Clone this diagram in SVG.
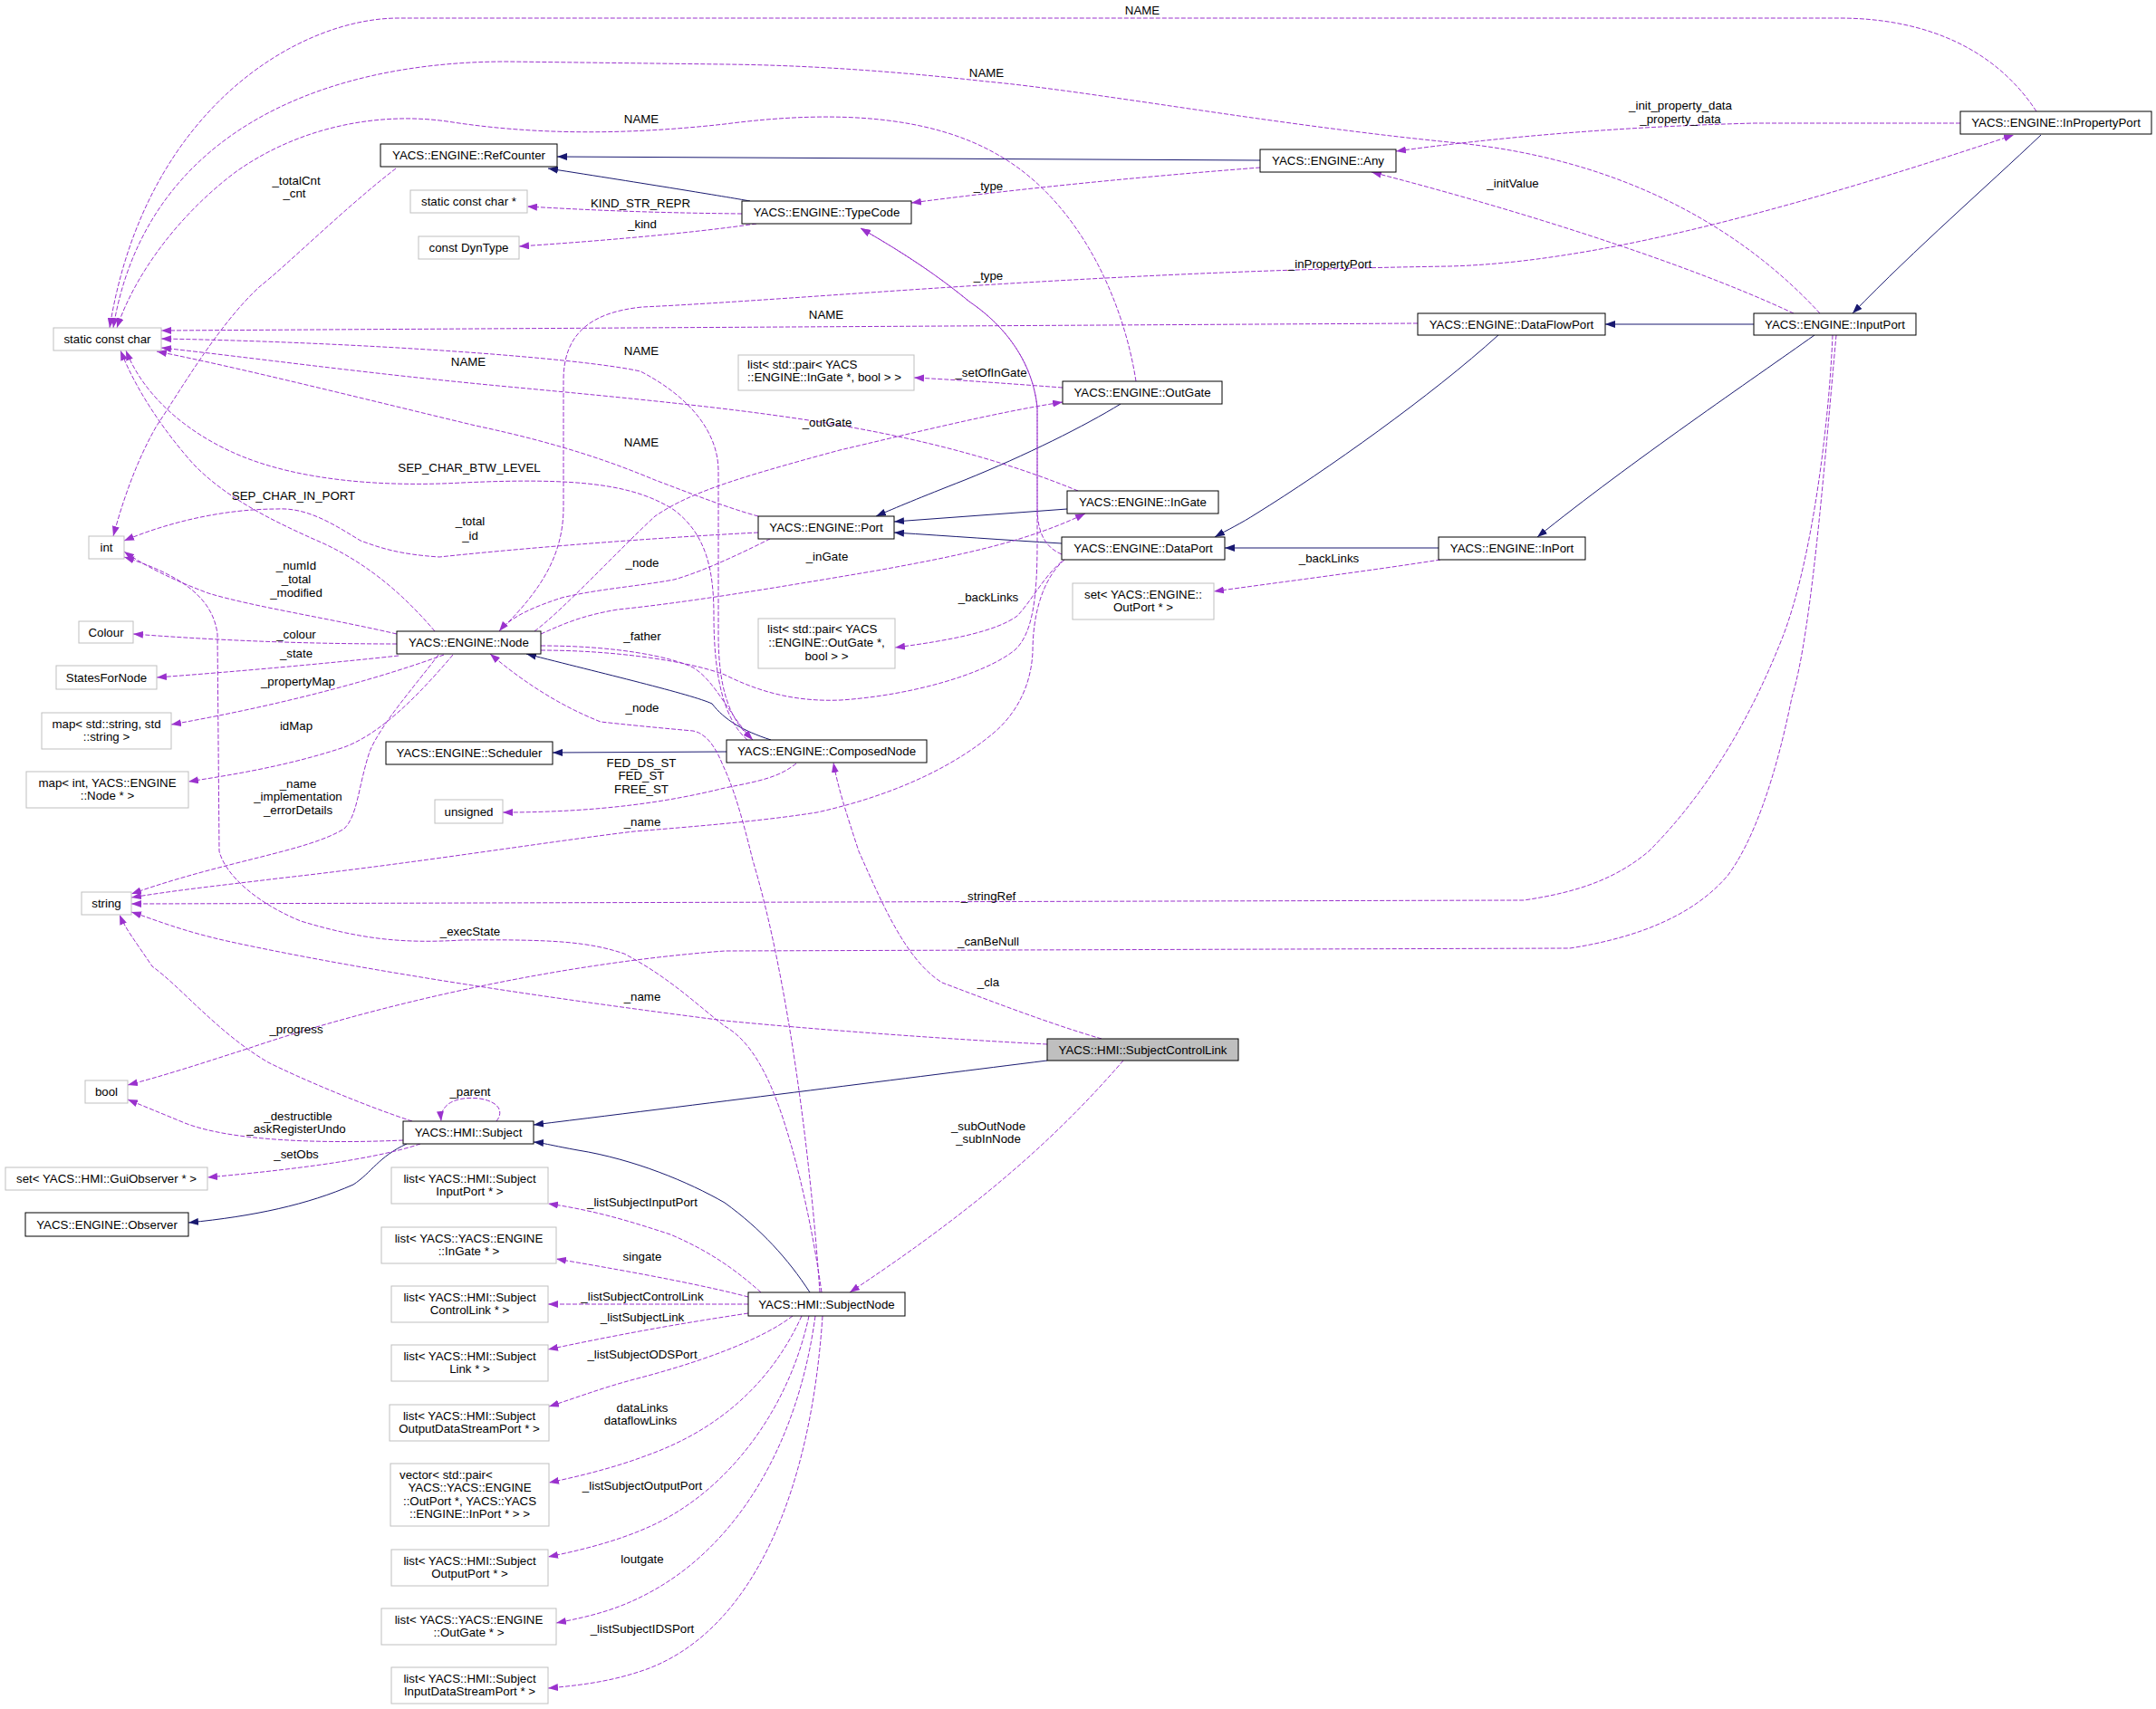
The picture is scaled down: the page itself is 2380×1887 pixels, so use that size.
<svg xmlns="http://www.w3.org/2000/svg" width="2380" height="1887" viewBox="0 0 2380 1887">
<defs>
<marker id="ap" viewBox="0 0 11 8" refX="11" refY="4" markerWidth="11" markerHeight="8" markerUnits="userSpaceOnUse" orient="auto"><path d="M0,0 L11,4 L0,8 z" fill="#9a32cd" stroke="none"/></marker>
<marker id="ab" viewBox="0 0 11 8" refX="11" refY="4" markerWidth="11" markerHeight="8" markerUnits="userSpaceOnUse" orient="auto"><path d="M0,0 L11,4 L0,8 z" fill="#191970" stroke="none"/></marker>
<style>
text{font-family:"Liberation Sans",Arial,sans-serif;font-size:13.3px;fill:#000}
.nt{text-anchor:middle}
.st{text-anchor:start}
.n rect{fill:#fff;stroke:#000;stroke-width:1}
.g rect{fill:#fff;stroke:#bfbfbf;stroke-width:1}
.c rect{fill:#bfbfbf;stroke:#000;stroke-width:1}
.d{fill:none;stroke:#9a32cd;stroke-width:1;stroke-dasharray:5,2;marker-end:url(#ap)}
.s{fill:none;stroke:#191970;stroke-width:1;marker-end:url(#ab)}
.lb text{text-anchor:middle}
</style>
</defs>
<rect width="2380" height="1887" fill="#fff"/>
<g id="connectors">
<!-- inheritance -->
<path class="s" d="M1391,177 L615,173"/>
<path class="s" d="M828,222 C800,217 714,203 605,186"/>
<path class="s" d="M2253,149 C2192,207 2116,273 2045,346"/>
<path class="s" d="M1936,358 L1772,358"/>
<path class="s" d="M2003,370 C1937,417 1800,510 1697,593"/>
<path class="s" d="M1654,370 C1580,437 1463,520 1387,567 C1370,578 1355,585 1341,593"/>
<path class="s" d="M1588,605 L1352,605"/>
<path class="s" d="M1172,600 C1106,596 1050,592 987,588"/>
<path class="s" d="M1178,562 L987,576"/>
<path class="s" d="M1237,446 C1198,470 1132,503 1065,530 C1014,550 990,560 967,570"/>
<path class="s" d="M851,817 C820,807 800,795 786,777 C765,767 663,743 581,722"/>
<path class="s" d="M802,830 L610,831"/>
<path class="s" d="M1156,1171 C1004,1190 800,1216 589,1242"/>
<path class="s" d="M894,1427 C870,1390 840,1357 800,1328 C760,1305 700,1280 638,1270 C610,1265 600,1262 589,1261"/>
<path class="s" d="M449,1263 C418,1277 410,1295 390,1308 C340,1330 280,1343 208,1350"/>
<!-- members -->
<path class="d" d="M2248,123 C2200,50 2120,20 2030,20 L440,20 C330,20 160,120 121,362"/>
<path class="d" d="M2009,346 C1930,260 1800,175 1600,157 C1400,137 1200,100 1089,90 C1000,80 900,72 800,71 L560,68 C350,68 160,150 125,362"/>
<path class="d" d="M1254,421 C1240,330 1190,220 1100,170 C1030,130 930,120 800,137 C700,148 600,150 500,135 C420,122 330,140 260,190 C200,235 150,300 129,362"/>
<path class="d" d="M1565,357 L178,365"/>
<path class="d" d="M831,817 C805,795 793,760 793,700 L793,520 C793,480 765,440 707,410 C640,395 400,378 178,374"/>
<path class="d" d="M1190,542 C1100,505 1000,480 886,463 C800,450 700,440 561,427 C400,412 280,395 178,384"/>
<path class="d" d="M837,570 C800,560 750,540 723,530 C680,512 620,490 525,470 C400,440 260,405 173,388"/>
<path class="d" d="M480,697 C440,650 400,620 357,600 C300,575 250,550 214,513 C180,475 150,430 133,387"/>
<path class="d" d="M825,817 C800,795 788,750 788,680 C788,630 780,590 744,563 C700,535 640,527 510,533 C420,538 330,530 265,503 C210,480 160,440 139,387"/>
<path class="d" d="M437,186 C380,230 320,290 286,317 C240,360 200,430 173,470 C150,510 135,555 125,592"/>
<path class="d" d="M837,588 C700,595 560,607 485,615 C440,612 420,605 398,597 C370,580 340,560 306,562 C250,562 190,575 137,597"/>
<path class="d" d="M438,700 C360,682 280,670 230,655 C190,640 160,625 137,609"/>
<path class="d" d="M907,1427 C897,1357 882,1290 866,1240 C850,1190 830,1150 800,1133 C770,1110 740,1080 689,1053 C650,1040 612,1037 510,1038 C444,1042 398,1037 332,1017 C290,1000 250,970 242,940 L240,700 C235,660 200,635 137,615"/>
<path class="d" d="M438,711 C350,711 250,708 147,700"/>
<path class="d" d="M440,724 C357,733 255,742 173,748"/>
<path class="d" d="M490,723 C430,745 330,775 189,800"/>
<path class="d" d="M500,723 C460,770 420,810 380,825 C320,845 260,855 208,863"/>
<path class="d" d="M484,723 C460,755 420,800 408,830 C395,870 395,900 380,915 C340,940 250,950 145,987"/>
<path class="d" d="M551,697 C600,650 622,610 622,560 L622,420 C622,370 650,345 709,339 C900,330 1200,300 1600,294 C1750,290 1950,240 2223,149"/>
<path class="d" d="M590,697 C620,675 680,610 723,570 C760,545 805,530 927,497 C1000,480 1100,455 1173,444"/>
<path class="d" d="M597,700 C620,690 640,680 682,673 C760,665 850,650 968,630 C1050,615 1130,600 1198,567"/>
<path class="d" d="M850,595 C830,605 780,630 744,640 C700,648 662,650 620,660 C590,670 565,680 551,697"/>
<path class="d" d="M597,713 C680,713 740,725 765,737 C790,752 805,790 831,817"/>
<path class="d" d="M597,718 C680,718 760,730 800,745 C840,765 880,775 928,773 C1004,768 1086,745 1120,718 C1140,700 1145,660 1145,600 L1145,450 C1140,400 1110,360 1070,333 C1030,300 990,275 950,252"/>
<path class="d" d="M1172,612 C1155,605 1145,590 1145,560 L1145,450 C1140,400 1110,360 1070,333 C1030,300 990,275 950,252"/>
<path class="d" d="M1175,618 C1150,640 1140,680 1140,720 C1138,760 1120,790 1096,810 C1060,840 1000,875 902,897 C850,905 800,910 700,918 C600,930 459,953 306,970 C250,977 200,982 145,991"/>
<path class="d" d="M1172,620 C1152,637 1139,663 1123,680 C1100,697 1050,707 988,715"/>
<path class="d" d="M905,1427 C895,1280 870,1080 831,950 C820,905 810,870 798,845 C790,825 780,810 765,807 C720,803 690,800 663,797 C620,780 580,755 541,722"/>
<path class="d" d="M879,843 C860,858 841,862 800,870 C740,885 663,897 555,897"/>
<path class="d" d="M1391,185 C1300,192 1150,205 1006,224"/>
<path class="d" d="M819,236 C720,235 650,232 582,228"/>
<path class="d" d="M835,247 C760,258 650,267 573,272"/>
<path class="d" d="M1173,428 C1106,423 1050,419 1009,417"/>
<path class="d" d="M1590,618 C1514,630 1412,643 1340,653"/>
<path class="d" d="M1980,346 C1850,285 1650,225 1514,190"/>
<path class="d" d="M2164,136 L1937,136 C1784,140 1650,152 1541,167"/>
<path class="d" d="M2023,370 C2019,470 2000,620 1968,703 C1930,800 1880,880 1820,940 C1784,970 1743,985 1682,994 L145,998"/>
<path class="d" d="M2027,370 C2015,500 2000,700 1978,770 C1960,860 1935,930 1907,967 C1870,1010 1810,1035 1733,1047 L800,1050 C600,1065 400,1115 276,1157 C220,1175 180,1188 141,1198"/>
<path class="d" d="M1156,1153 C1055,1148 902,1137 800,1127 C612,1103 408,1073 255,1040 C200,1028 170,1015 145,1007"/>
<path class="d" d="M1216,1147 C1157,1130 1080,1100 1040,1085 C1000,1060 975,1000 948,940 C935,900 925,870 920,842"/>
<path class="d" d="M1240,1171 C1180,1240 1100,1320 938,1427"/>
<path class="d" d="M445,1259 C357,1263 255,1260 204,1240 C180,1230 160,1222 141,1214"/>
<path class="d" d="M464,1263 C408,1282 306,1293 229,1300"/>
<path class="d" d="M455,1238 C400,1220 330,1190 296,1173 C240,1140 200,1090 168,1067 C150,1040 138,1025 132,1010"/>
<path class="d" d="M548,1238 C556,1228 552,1217 530,1213 C505,1210 485,1218 487,1238"/>
<path class="d" d="M840,1427 C810,1400 780,1380 740,1363 C700,1350 660,1337 605,1329"/>
<path class="d" d="M826,1432 C780,1420 714,1407 614,1390"/>
<path class="d" d="M826,1440 L605,1440"/>
<path class="d" d="M826,1450 C760,1460 700,1470 605,1490"/>
<path class="d" d="M875,1453 C840,1480 770,1505 700,1523 C663,1533 640,1542 606,1553"/>
<path class="d" d="M885,1453 C850,1530 790,1580 714,1607 C680,1620 640,1630 606,1637"/>
<path class="d" d="M893,1453 C870,1560 800,1650 714,1687 C680,1702 640,1712 605,1719"/>
<path class="d" d="M900,1453 C880,1600 810,1710 714,1760 C680,1778 650,1785 614,1792"/>
<path class="d" d="M908,1453 C895,1650 830,1800 714,1843 C680,1855 650,1860 605,1864"/>
</g>
<g id="edge-labels" class="lb">
<text x="1261" y="16">NAME</text>
<text x="1089" y="85">NAME</text>
<text x="1855" y="121">_init_property_data</text>
<text x="1855" y="136">_property_data</text>
<text x="708" y="136">NAME</text>
<text x="327" y="204">_totalCnt</text>
<text x="325" y="218">_cnt</text>
<text x="1091" y="210">_type</text>
<text x="1670" y="207">_initValue</text>
<text x="707" y="229">KIND_STR_REPR</text>
<text x="709" y="252">_kind</text>
<text x="1468" y="296">_inPropertyPort</text>
<text x="1091" y="309">_type</text>
<text x="912" y="352">NAME</text>
<text x="708" y="392">NAME</text>
<text x="517" y="404">NAME</text>
<text x="1094" y="416">_setOfInGate</text>
<text x="913" y="471">_outGate</text>
<text x="708" y="493">NAME</text>
<text x="518" y="521">SEP_CHAR_BTW_LEVEL</text>
<text x="324" y="552">SEP_CHAR_IN_PORT</text>
<text x="519" y="580">_total</text>
<text x="519" y="596">_id</text>
<text x="913" y="619">_inGate</text>
<text x="1467" y="621">_backLinks</text>
<text x="709" y="626">_node</text>
<text x="327" y="629">_numId</text>
<text x="327" y="644">_total</text>
<text x="327" y="659">_modified</text>
<text x="1091" y="664">_backLinks</text>
<text x="327" y="705">_colour</text>
<text x="709" y="707">_father</text>
<text x="327" y="726">_state</text>
<text x="329" y="757">_propertyMap</text>
<text x="709" y="786">_node</text>
<text x="327" y="806">idMap</text>
<text x="708" y="847">FED_DS_ST</text>
<text x="708" y="861">FED_ST</text>
<text x="708" y="876">FREE_ST</text>
<text x="329" y="870">_name</text>
<text x="329" y="884">_implementation</text>
<text x="329" y="899">_errorDetails</text>
<text x="709" y="912">_name</text>
<text x="1091" y="994">_stringRef</text>
<text x="519" y="1033">_execState</text>
<text x="1091" y="1044">_canBeNull</text>
<text x="1091" y="1089">_cla</text>
<text x="709" y="1105">_name</text>
<text x="327" y="1141">_progress</text>
<text x="519" y="1210">_parent</text>
<text x="329" y="1237">_destructible</text>
<text x="327" y="1251">_askRegisterUndo</text>
<text x="1091" y="1248">_subOutNode</text>
<text x="1091" y="1262">_subInNode</text>
<text x="327" y="1279">_setObs</text>
<text x="709" y="1332">_listSubjectInputPort</text>
<text x="709" y="1392">singate</text>
<text x="709" y="1436">_listSubjectControlLink</text>
<text x="709" y="1459">_listSubjectLink</text>
<text x="709" y="1500">_listSubjectODSPort</text>
<text x="709" y="1559">dataLinks</text>
<text x="707" y="1573">dataflowLinks</text>
<text x="709" y="1645">_listSubjectOutputPort</text>
<text x="709" y="1726">loutgate</text>
<text x="709" y="1803">_listSubjectIDSPort</text>
</g>
<g id="n_static_const_char" class="g"><rect x="59" y="362" width="119" height="25"/><text class="nt" x="118.5" y="379">static const char</text></g>
<g id="n_RefCounter" class="n"><rect x="420" y="159" width="195" height="25"/><text class="nt" x="517.5" y="176">YACS::ENGINE::RefCounter</text></g>
<g id="n_static_const_char_ptr" class="g"><rect x="453" y="210" width="129" height="25"/><text class="nt" x="517.5" y="227">static const char *</text></g>
<g id="n_const_DynType" class="g"><rect x="462" y="261" width="111" height="25"/><text class="nt" x="517.5" y="278">const DynType</text></g>
<g id="n_TypeCode" class="n"><rect x="819" y="222" width="187" height="25"/><text class="nt" x="912.5" y="239">YACS::ENGINE::TypeCode</text></g>
<g id="n_Any" class="n"><rect x="1391" y="165" width="150" height="25"/><text class="nt" x="1466" y="182">YACS::ENGINE::Any</text></g>
<g id="n_InPropertyPort" class="n"><rect x="2164" y="123" width="211" height="25"/><text class="nt" x="2269.5" y="140">YACS::ENGINE::InPropertyPort</text></g>
<g id="n_DataFlowPort" class="n"><rect x="1565" y="346" width="207" height="24"/><text class="nt" x="1668.5" y="362.5">YACS::ENGINE::DataFlowPort</text></g>
<g id="n_InputPort" class="n"><rect x="1936" y="346" width="179" height="24"/><text class="nt" x="2025.5" y="362.5">YACS::ENGINE::InputPort</text></g>
<g id="n_list_pair_InGate" class="g"><rect x="815" y="392" width="194" height="39"/><text class="st" x="825" y="407">list&lt; std::pair&lt; YACS</text><text class="st" x="825" y="421">::ENGINE::InGate *, bool &gt; &gt;</text></g>
<g id="n_OutGate" class="n"><rect x="1173" y="421" width="176" height="25"/><text class="nt" x="1261" y="438">YACS::ENGINE::OutGate</text></g>
<g id="n_int" class="g"><rect x="98" y="592" width="39" height="25"/><text class="nt" x="117.5" y="609">int</text></g>
<g id="n_Colour" class="g"><rect x="87" y="686" width="60" height="24"/><text class="nt" x="117" y="702.5">Colour</text></g>
<g id="n_StatesForNode" class="g"><rect x="62" y="735" width="111" height="26"/><text class="nt" x="117.5" y="752.5">StatesForNode</text></g>
<g id="n_map_string" class="g"><rect x="46" y="787" width="143" height="40"/><text class="nt" x="117.5" y="804">map&lt; std::string, std</text><text class="nt" x="117.5" y="818">::string &gt;</text></g>
<g id="n_map_int_node" class="g"><rect x="29" y="852" width="179" height="40"/><text class="nt" x="118.5" y="869">map&lt; int, YACS::ENGINE</text><text class="nt" x="118.5" y="883">::Node * &gt;</text></g>
<g id="n_Node" class="n"><rect x="438" y="697" width="159" height="25"/><text class="nt" x="517.5" y="714">YACS::ENGINE::Node</text></g>
<g id="n_Scheduler" class="n"><rect x="426" y="819" width="184" height="25"/><text class="nt" x="518" y="836">YACS::ENGINE::Scheduler</text></g>
<g id="n_unsigned" class="g"><rect x="480" y="883" width="75" height="26"/><text class="nt" x="517.5" y="900.5">unsigned</text></g>
<g id="n_Port" class="n"><rect x="837" y="570" width="150" height="25"/><text class="nt" x="912" y="587">YACS::ENGINE::Port</text></g>
<g id="n_InGate" class="n"><rect x="1178" y="542" width="167" height="25"/><text class="nt" x="1261.5" y="559">YACS::ENGINE::InGate</text></g>
<g id="n_DataPort" class="n"><rect x="1172" y="593" width="180" height="25"/><text class="nt" x="1262" y="610">YACS::ENGINE::DataPort</text></g>
<g id="n_InPort" class="n"><rect x="1588" y="593" width="162" height="25"/><text class="nt" x="1669" y="610">YACS::ENGINE::InPort</text></g>
<g id="n_set_OutPort" class="g"><rect x="1184" y="644" width="156" height="40"/><text class="nt" x="1262" y="661">set&lt; YACS::ENGINE::</text><text class="nt" x="1262" y="675">OutPort * &gt;</text></g>
<g id="n_list_pair_OutGate" class="g"><rect x="837" y="683" width="151" height="55"/><text class="st" x="847" y="699">list&lt; std::pair&lt; YACS</text><text class="nt" x="912.5" y="714">::ENGINE::OutGate *,</text><text class="nt" x="912.5" y="729">bool &gt; &gt;</text></g>
<g id="n_ComposedNode" class="n"><rect x="802" y="817" width="221" height="25"/><text class="nt" x="912.5" y="834">YACS::ENGINE::ComposedNode</text></g>
<g id="n_string" class="g"><rect x="90" y="985" width="55" height="25"/><text class="nt" x="117.5" y="1002">string</text></g>
<g id="n_bool" class="g"><rect x="94" y="1193" width="47" height="25"/><text class="nt" x="117.5" y="1210">bool</text></g>
<g id="n_Subject" class="n"><rect x="445" y="1238" width="144" height="25"/><text class="nt" x="517" y="1255">YACS::HMI::Subject</text></g>
<g id="n_set_GuiObserver" class="g"><rect x="6" y="1289" width="223" height="25"/><text class="nt" x="117.5" y="1306">set&lt; YACS::HMI::GuiObserver * &gt;</text></g>
<g id="n_Observer" class="n"><rect x="28" y="1339" width="180" height="26"/><text class="nt" x="118" y="1356.5">YACS::ENGINE::Observer</text></g>
<g id="n_list_SubjectInputPort" class="g"><rect x="432" y="1289" width="173" height="40"/><text class="nt" x="518.5" y="1306">list&lt; YACS::HMI::Subject</text><text class="nt" x="518.5" y="1320">InputPort * &gt;</text></g>
<g id="n_list_InGate" class="g"><rect x="421" y="1355" width="193" height="40"/><text class="nt" x="517.5" y="1372">list&lt; YACS::YACS::ENGINE</text><text class="nt" x="517.5" y="1386">::InGate * &gt;</text></g>
<g id="n_SubjectControlLink" class="c"><rect x="1156" y="1147" width="211" height="24"/><text class="nt" x="1261.5" y="1163.5">YACS::HMI::SubjectControlLink</text></g>
<g id="n_SubjectNode" class="n"><rect x="826" y="1427" width="173" height="26"/><text class="nt" x="912.5" y="1444.5">YACS::HMI::SubjectNode</text></g>
<g id="n_list_SubjectControlLink" class="g"><rect x="432" y="1420" width="173" height="40"/><text class="nt" x="518.5" y="1437">list&lt; YACS::HMI::Subject</text><text class="nt" x="518.5" y="1451">ControlLink * &gt;</text></g>
<g id="n_list_SubjectLink" class="g"><rect x="432" y="1485" width="173" height="40"/><text class="nt" x="518.5" y="1502">list&lt; YACS::HMI::Subject</text><text class="nt" x="518.5" y="1516">Link * &gt;</text></g>
<g id="n_list_SubjectODSPort" class="g"><rect x="430" y="1551" width="176" height="40"/><text class="nt" x="518" y="1568">list&lt; YACS::HMI::Subject</text><text class="nt" x="518" y="1582">OutputDataStreamPort * &gt;</text></g>
<g id="n_vector_links" class="g"><rect x="431" y="1616" width="175" height="69"/><text class="st" x="441" y="1633">vector&lt; std::pair&lt;</text><text class="nt" x="518.5" y="1647">YACS::YACS::ENGINE</text><text class="nt" x="518.5" y="1662">::OutPort *, YACS::YACS</text><text class="nt" x="518.5" y="1676">::ENGINE::InPort * &gt; &gt;</text></g>
<g id="n_list_SubjectOutputPort" class="g"><rect x="432" y="1711" width="173" height="40"/><text class="nt" x="518.5" y="1728">list&lt; YACS::HMI::Subject</text><text class="nt" x="518.5" y="1742">OutputPort * &gt;</text></g>
<g id="n_list_OutGate" class="g"><rect x="421" y="1776" width="193" height="40"/><text class="nt" x="517.5" y="1793">list&lt; YACS::YACS::ENGINE</text><text class="nt" x="517.5" y="1807">::OutGate * &gt;</text></g>
<g id="n_list_SubjectIDSPort" class="g"><rect x="432" y="1841" width="173" height="40"/><text class="nt" x="518.5" y="1858">list&lt; YACS::HMI::Subject</text><text class="nt" x="518.5" y="1872">InputDataStreamPort * &gt;</text></g>
</svg>
